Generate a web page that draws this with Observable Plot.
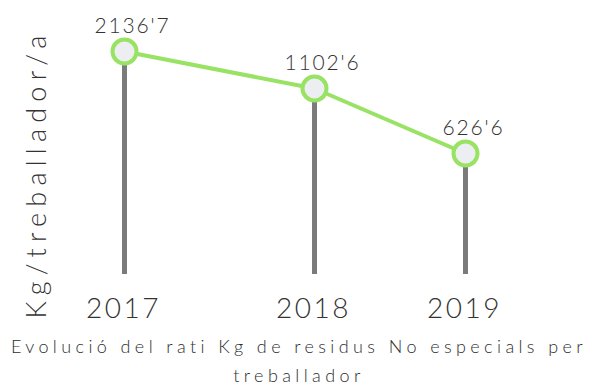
<!DOCTYPE html>
<html>
<head>
<meta charset="utf-8">
<script src="https://cdn.jsdelivr.net/npm/d3@7"></script>
<script src="https://cdn.jsdelivr.net/npm/@observablehq/plot@0.6"></script>
<style>
  html, body { margin: 0; padding: 0; background: #fff; }
  #chart svg { display: block; }
  #chart .value-label text { letter-spacing: 1.8px; }
  #chart .year-label text { letter-spacing: 2.5px; }
  #chart .y-title text { letter-spacing: 6.2px; }
  .caption {
    width: 598px;
    text-align: center;
    font-family: Lato, sans-serif;
    font-weight: 300;
    font-size: 18px;
    letter-spacing: 4.4px;
    line-height: 29px;
    color: #2e2e2e;
    margin-top: 2px;
  }
</style>
</head>
<body>
<div id="chart"></div>
<div class="caption">Evolució del rati Kg de residus No especials per<br>treballador</div>
<script>
// Kg of non-special waste per worker, by year
const years = [2017, 2018, 2019];
const kgPerWorker = [2136.7, 1102.6, 626.6];
const yLabel = "Kg/treballador/a";

const data = years.map((year, i) => ({year, value: kgPerWorker[i]}));
const fmt = v => v.toFixed(1).replace(".", "'");

const green = "#98e264";
const stemGray = "#7b7b7b";
const ink = "#333";

const chart = Plot.plot({
  width: 598,
  height: 300,
  marginTop: 0,
  marginRight: 0,
  marginBottom: 0,
  marginLeft: 0,
  style: {fontFamily: "Lato, sans-serif", color: ink, overflow: "visible"},
  x: {type: "linear", domain: years, range: [124, 314, 465], axis: null},
  y: {type: "linear", domain: [0, 626.6, 1102.6, 2136.7], range: [274, 153, 88, 51], axis: null},
  marks: [
    Plot.ruleX(data, {x: "year", y1: 0, y2: "value", stroke: stemGray, strokeWidth: 5}),
    Plot.line(data, {x: "year", y: "value", stroke: green, strokeWidth: 4}),
    Plot.dot(data, {x: "year", y: "value", r: 12, fill: "#eceef1", stroke: green, strokeWidth: 4}),
    Plot.text(data, {
      x: "year", y: "value", text: d => fmt(d.value),
      dx: 8, dy: -19, lineAnchor: "bottom",
      fontSize: 21, fontWeight: 300, fill: ink, className: "value-label"
    }),
    Plot.text(data, {
      x: "year", text: d => String(d.year),
      frameAnchor: "bottom", dx: -1, dy: -2, lineAnchor: "top",
      fontSize: 28, fontWeight: 300, fill: ink, className: "year-label"
    }),
    Plot.text([yLabel], {
      frameAnchor: "bottom-left", dx: 45, dy: 18,
      rotate: -90, textAnchor: "start",
      fontSize: 27, fontWeight: 300, fill: ink, className: "y-title"
    })
  ]
});

// allow the year labels to sit below the plotting frame
const svg = d3.select(chart);
svg.attr("height", 330).attr("viewBox", "0 0 598 330");
document.getElementById("chart").append(chart);
</script>
</body>
</html>
